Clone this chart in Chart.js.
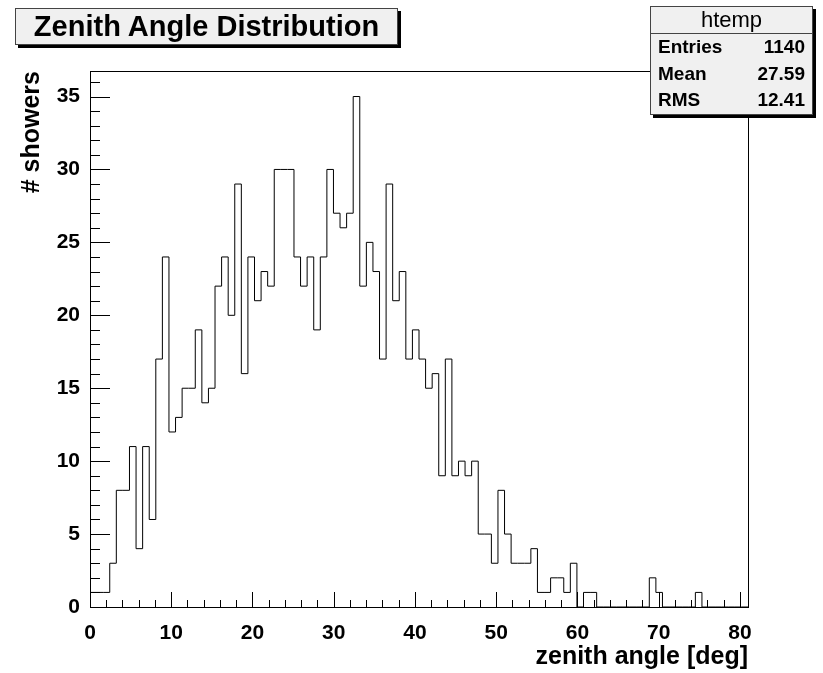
<!DOCTYPE html>
<html lang="en">
<head>
<meta charset="UTF-8">
<title>Zenith Angle Distribution</title>
<script src="https://cdn.jsdelivr.net/npm/chart.js"></script>
<style>
body { margin: 0; background: #fff; }
.wrap { position: relative; width: 823px; height: 673px; }
canvas { position: absolute; left: 0; top: 0; }
.pave {
    position: absolute;
    background: #f0f0f0;
    border: 1px solid #444;
    box-shadow: 3px 3px 0 #000;
    font-family: 'Liberation Sans', Arial, sans-serif;
    color: #000;
}
#title { left: 15px; top: 8px; width: 381px; height: 35px; font-weight: bold; font-size: 29px; line-height: 35px; text-align: center; }
#stats { left: 650px; top: 6px; width: 161px; height: 107px; }
#stats .head { height: 26px; border-bottom: 1px solid #444; text-align: center; font-size: 22px; line-height: 26px; }
#stats .row { display: flex; justify-content: space-between; padding: 0 7px; font-weight: bold; font-size: 19px; height: 26.5px; line-height: 26.5px; }
</style>
</head>
<body>
<div class="wrap">
    <canvas id="histo" width="823" height="673"></canvas>
    <div class="pave" id="title"></div>
    <div class="pave" id="stats"></div>
</div>
<script>
// histogram "htemp": 100 bins from 0 to 81 deg
const xMin = 0;
const xMax = 81;
const binWidth = 0.81;
const counts = [
    1, 1, 1, 3, 8, 8, 11, 4, 11, 6,
    17, 24, 12, 13, 15, 15, 19, 14, 15, 22,
    24, 20, 29, 16, 24, 21, 23, 22, 30, 30,
    30, 24, 22, 24, 19, 24, 30, 27, 26, 27,
    35, 22, 25, 23, 17, 29, 21, 23, 17, 19,
    17, 15, 16, 9, 17, 9, 10, 9, 10, 5,
    5, 3, 8, 5, 3, 3, 3, 4, 1, 1,
    2, 2, 1, 3, 0, 1, 1, 0, 0, 0,
    0, 0, 0, 0, 0, 2, 1, 0, 0, 0,
    0, 0, 1, 0, 0, 0, 0, 0, 0, 0
];
const xTicks = [0, 10, 20, 30, 40, 50, 60, 70, 80];
const yTicks = [0, 5, 10, 15, 20, 25, 30, 35];
const yMax = 36.75;

const titleText = 'Zenith Angle Distribution';
const xTitle = 'zenith angle [deg]';
const yTitle = '# showers';
const statsName = 'htemp';
const statsLabels = ['Entries', 'Mean', 'RMS'];
const statsValues = ['1140', '27.59', '12.41'];

document.getElementById('title').textContent = titleText;
const stats = document.getElementById('stats');
stats.innerHTML = '<div class="head">' + statsName + '</div>' +
    statsLabels.map((l, i) => '<div class="row"><span>' + l + '</span><span>' + statsValues[i] + '</span></div>').join('');

// step outline: point i sits on the low edge of bin i, the last one closes the range
const points = counts.map((c, i) => ({x: xMin + i * binWidth, y: c}));
points.push({x: xMax, y: 0});

const font = "'Liberation Sans', Arial, sans-serif";

// ROOT style frame with ticks pointing inwards
const rootFrame = {
    id: 'rootFrame',
    afterDatasetsDraw(chart) {
        const {ctx, chartArea: a, scales: {x, y}} = chart;
        ctx.save();
        ctx.strokeStyle = '#000';
        ctx.lineWidth = 1;
        ctx.beginPath();
        for (let v = 0; v <= yMax; v += 1) {
            const py = Math.round(y.getPixelForValue(v)) + 0.5;
            const len = yTicks.includes(v) ? 20 : 10;
            ctx.moveTo(a.left, py);
            ctx.lineTo(a.left + len, py);
        }
        for (let v = 0; v <= 80; v += 2) {
            const px = Math.round(x.getPixelForValue(v)) + 0.5;
            const len = xTicks.includes(v) ? 15 : 7;
            ctx.moveTo(px, a.bottom);
            ctx.lineTo(px, a.bottom - len);
        }
        ctx.stroke();
        ctx.strokeRect(Math.round(a.left) + 0.5, Math.round(a.top) + 0.5,
            Math.round(a.right - a.left), Math.round(a.bottom - a.top));
        ctx.restore();
    }
};

new Chart(document.getElementById('histo'), {
    type: 'line',
    data: {
        datasets: [{
            data: points,
            stepped: 'before',
            borderColor: '#000',
            borderWidth: 1,
            pointRadius: 0,
            fill: false
        }]
    },
    options: {
        responsive: false,
        animation: false,
        layout: {padding: {top: 71, right: 75, left: 0, bottom: 0}},
        plugins: {legend: {display: false}, tooltip: {enabled: false}},
        scales: {
            x: {
                type: 'linear',
                min: xMin,
                max: xMax,
                grid: {display: false, drawTicks: false},
                border: {display: false},
                afterBuildTicks: s => { s.ticks = xTicks.map(v => ({value: v})); },
                afterFit: s => { s.height = 66; },
                ticks: {color: '#000', padding: 14, maxRotation: 0, font: {family: font, size: 21, weight: 'bold'}},
                title: {
                    display: true, text: xTitle, align: 'end', color: '#000',
                    padding: {top: 0, bottom: 1},
                    font: {family: font, size: 25, weight: 'bold'}
                }
            },
            y: {
                min: 0,
                max: yMax,
                grid: {display: false, drawTicks: false},
                border: {display: false},
                afterBuildTicks: s => { s.ticks = yTicks.map(v => ({value: v})); },
                afterFit: s => { s.width = 90; },
                ticks: {color: '#000', padding: 10, font: {family: font, size: 21, weight: 'bold'}},
                title: {
                    display: true, text: yTitle, align: 'end', color: '#000',
                    padding: {top: 17, bottom: 0},
                    font: {family: font, size: 25, weight: 'bold'}
                }
            }
        }
    },
    plugins: [rootFrame]
});
</script>
</body>
</html>
